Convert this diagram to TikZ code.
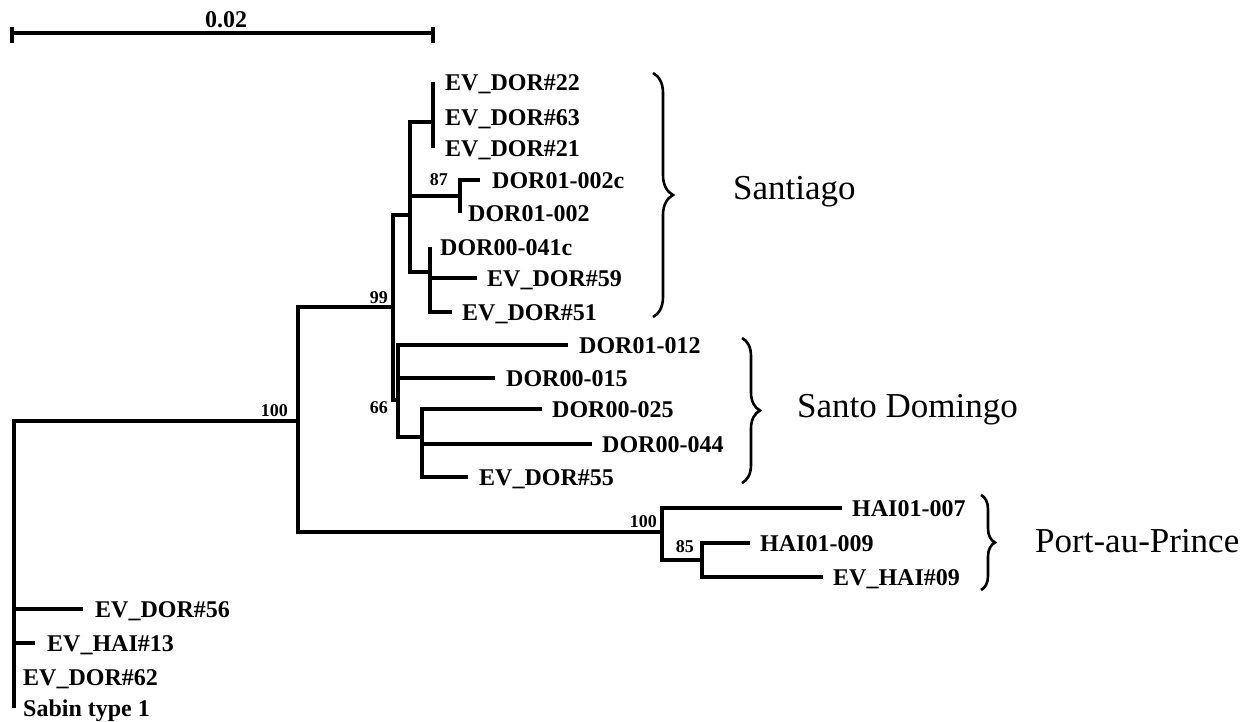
\documentclass[tikz,border=0pt]{standalone}
\usepackage{fontspec}
\setmainfont{Liberation Serif}
\usetikzlibrary{positioning,decorations.pathreplacing}

\begin{document}
\begin{tikzpicture}[
    x=1pt, y=-1pt,
    branch/.style={line width=4pt},
    taxon/.style={font=\bfseries\fontsize{24}{26}\selectfont, inner sep=0pt,
                  text height=16pt, text depth=0pt, anchor=west},
    boot/.style={font=\bfseries\fontsize{18}{20}\selectfont, inner sep=0pt, anchor=base east},
    clade/.style={font=\fontsize{35}{38}\selectfont, inner sep=0pt,
                  text height=23pt, text depth=0pt, anchor=west},
    grp/.style={line width=2.6pt, decorate, decoration={brace, amplitude=#1}}
  ]
  \useasboundingbox (0,0) rectangle (1251,721);

  % scale bar
  \coordinate (sL) at (12,33);
  \coordinate (sR) at (433,33);
  \draw[branch] (sL) -- (sR);
  \draw[branch] ([yshift=6pt]sL) -- ([yshift=-10pt]sL);
  \draw[branch] ([yshift=6pt]sR) -- ([yshift=-10pt]sR);
  \node[taxon, anchor=base] (scale) at (226,27) {0.02};

  % internal nodes
  \coordinate (root) at (14,421);
  \coordinate (n100) at (298,421);
  \coordinate (n99) at (393,307);
  \coordinate (nSant) at (410,215);
  \coordinate (nEV) at (433,122);
  \coordinate (n87) at (460,196);
  \coordinate (n41) at (430,272);
  \coordinate (n66) at (398,400);
  \coordinate (nSD) at (422,437);
  \coordinate (nPaP) at (662,532);
  \coordinate (n85) at (702,560);

  % tips
  \coordinate (t22) at (433,82);
  \coordinate (t63) at (433,117);
  \coordinate (t21) at (433,148);
  \coordinate (t002c) at (480,180);
  \coordinate (t002) at (460,213);
  \coordinate (t041c) at (430,247);
  \coordinate (t59) at (477,278);
  \coordinate (t51) at (452,312);
  \coordinate (t012) at (568,345);
  \coordinate (t015) at (495,378);
  \coordinate (t025) at (542,409);
  \coordinate (t044) at (592,444);
  \coordinate (t55) at (468,477);
  \coordinate (t007) at (842,508);
  \coordinate (t009) at (750,543);
  \coordinate (th09) at (823,577);
  \coordinate (t56) at (83,609);
  \coordinate (th13) at (35,643);
  \coordinate (t62) at (14,677);
  \coordinate (tSab) at (14,708);

  % branches
  \draw[branch] (n100) -| (root) |- (tSab);
  \draw[branch] (root) |- (t56);
  \draw[branch] (root) |- (th13);
  \draw[branch] (n99) -| (n100) |- (nPaP);
  \draw[branch] (nSant) -| (n99) |- (n66);
  \draw[branch] (nEV) -| (nSant) |- (n41);
  \draw[branch] (nSant) |- (n87);
  \draw[branch] (t22) -| (nEV) |- (t21);
  \draw[branch] (t002c) -| (n87) |- (t002);
  \draw[branch] (t041c) -| (n41) |- (t51);
  \draw[branch] (n41) |- (t59);
  \draw[branch] (t012) -| (n66) |- (nSD);
  \draw[branch] (n66) |- (t015);
  \draw[branch] (t025) -| (nSD) |- (t55);
  \draw[branch] (nSD) |- (t044);
  \draw[branch] (t007) -| (nPaP) |- (n85);
  \draw[branch] (t009) -| (n85) |- (th09);

  % taxa
  \node[taxon, right=12pt of t22] (l22) {EV\_DOR\#22};
  \node[taxon, right=12pt of t63] (l63) {EV\_DOR\#63};
  \node[taxon, right=12pt of t21] (l21) {EV\_DOR\#21};
  \node[taxon, right=12pt of t002c] (l002c) {DOR01-002c};
  \node[taxon, right=8pt of t002] (l002) {DOR01-002};
  \node[taxon, right=10pt of t041c] (l041c) {DOR00-041c};
  \node[taxon, right=10pt of t59] (l59) {EV\_DOR\#59};
  \node[taxon, right=10pt of t51] (l51) {EV\_DOR\#51};
  \node[taxon, right=11pt of t012] (l012) {DOR01-012};
  \node[taxon, right=11pt of t015] (l015) {DOR00-015};
  \node[taxon, right=10pt of t025] (l025) {DOR00-025};
  \node[taxon, right=10pt of t044] (l044) {DOR00-044};
  \node[taxon, right=11pt of t55] (l55) {EV\_DOR\#55};
  \node[taxon, right=10pt of t007] (l007) {HAI01-007};
  \node[taxon, right=10pt of t009] (l009) {HAI01-009};
  \node[taxon, right=10pt of th09] (lh09) {EV\_HAI\#09};
  \node[taxon, right=12pt of t56] (l56) {EV\_DOR\#56};
  \node[taxon, right=12pt of th13] (lh13) {EV\_HAI\#13};
  \node[taxon, right=9pt of t62] (l62) {EV\_DOR\#62};
  \node[taxon, right=9pt of tSab] (lSab) {Sabin type 1};

  % bootstrap values
  \node[boot] (b100) at (288,416) {100};
  \node[boot] (b99) at (388,303) {99};
  \node[boot] (b87) at (448,185) {87};
  \node[boot] (b66) at (388,413) {66};
  \node[boot] (b100h) at (657,527) {100};
  \node[boot] (b85) at (694,552) {85};

  % clades
  \draw[grp=20] (653,73) -- (653,317);
  \draw[grp=18] (742,338) -- (742,483);
  \draw[grp=14] (981,495) -- (981,590);
  \node[clade] (santiago) at (733,188) {Santiago};
  \node[clade] (domingo) at (797,406) {Santo Domingo};
  \node[clade] (prince) at (1035,541) {Port-au-Prince};
\end{tikzpicture}
\end{document}
